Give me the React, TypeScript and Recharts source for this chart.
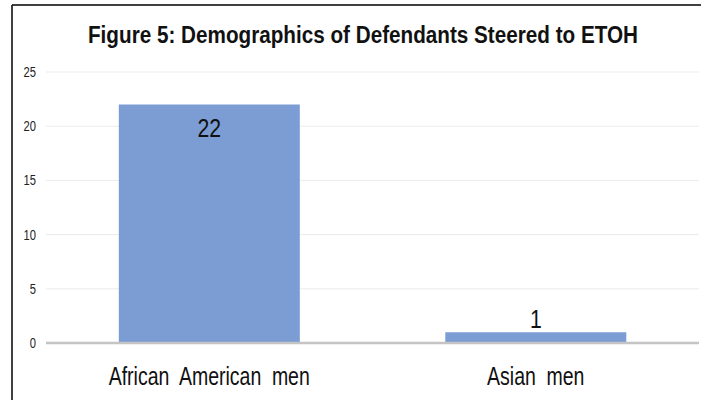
import React from "react";
import { BarChart, Bar, XAxis, YAxis, CartesianGrid, LabelList } from "recharts";

const categories = ["African American men", "Asian men"];
const counts = [22, 1];
const yTicks = [0, 5, 10, 15, 20, 25];
const title = "Figure 5: Demographics of Defendants Steered to ETOH";

const data = categories.map((c, i) => ({ name: c, value: counts[i] }));

const XTick = (props: any) => {
  const { x, y, payload } = props;
  return (
    <text
      x={x}
      y={y}
      textAnchor="middle"
      fontFamily="Liberation Sans, Arial, sans-serif"
      fontSize={26}
      fill="#111"
      style={{ wordSpacing: "7px" }}
      transform={`translate(${x},0) scale(0.75,1) translate(${-x},0)`}
    >
      {payload.value}
    </text>
  );
};

const YTick = (props: any) => {
  const { x, y, payload } = props;
  return (
    <text
      x={x}
      y={y}
      dy="0.36em"
      textAnchor="end"
      fontFamily="Liberation Sans, Arial, sans-serif"
      fontSize={14}
      fill="#222"
      transform={`translate(${x},0) scale(0.8,1) translate(${-x},0)`}
    >
      {payload.value}
    </text>
  );
};

const ValueLabel = (props: any) => {
  const { x, y, width, value } = props;
  const cx = x + width / 2;
  const inside = value > 5;
  const ty = inside ? y + 32.5 : y - 4;
  return (
    <text
      x={cx}
      y={ty}
      textAnchor="middle"
      fontFamily="Liberation Sans, Arial, sans-serif"
      fontSize={25}
      fill="#111"
      transform={`translate(${cx},0) scale(0.85,1) translate(${-cx},0)`}
    >
      {value}
    </text>
  );
};

export default function App() {
  return (
    <div style={{ position: "absolute", left: 0, top: 0, width: 701, height: 400, background: "#fff" }}>
      <BarChart
        width={701}
        height={400}
        data={data}
        margin={{ top: 72, right: 2, bottom: 27, left: 12 }}
        barCategoryGap="22.3%"
      >
        <CartesianGrid vertical={false} stroke="#ebebeb" strokeWidth={1} />
        <XAxis
          dataKey="name"
          height={30}
          tickLine={false}
          tickSize={0}
          tickMargin={42}
          axisLine={{ stroke: "#c4c4c4", strokeWidth: 2.5 }}
          tick={<XTick />}
          interval={0}
        />
        <YAxis
          width={34}
          domain={[0, 25]}
          ticks={yTicks}
          axisLine={false}
          tickLine={false}
          tickSize={0}
          tickMargin={10}
          tick={<YTick />}
        />
        <Bar dataKey="value" fill="#7b9dd4" isAnimationActive={false}>
          <LabelList dataKey="value" content={<ValueLabel />} />
        </Bar>
      </BarChart>
      <svg
        width={701}
        height={400}
        style={{ position: "absolute", left: 0, top: 0, pointerEvents: "none" }}
      >
        <line x1={12} y1={5} x2={701} y2={5} stroke="#000" strokeWidth={1.5} />
        <line x1={12} y1={5} x2={12} y2={400} stroke="#000" strokeWidth={1.5} />
        <text
          x={363}
          y={43}
          textAnchor="middle"
          fontFamily="Liberation Sans, Arial, sans-serif"
          fontWeight="bold"
          fontSize={21}
          fill="#111"
          textLength={550}
          lengthAdjust="spacingAndGlyphs"
          transform="translate(0,43) scale(1,1.12) translate(0,-43)"
        >
          {title}
        </text>
      </svg>
    </div>
  );
}
